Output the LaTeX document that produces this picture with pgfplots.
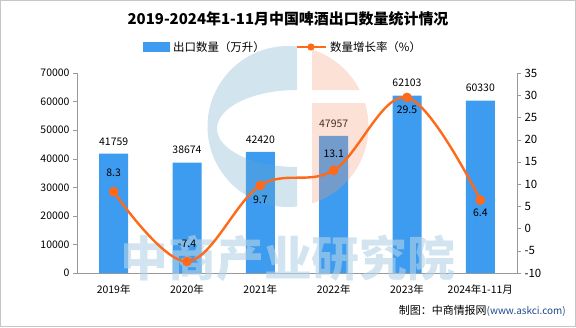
\documentclass[border=0pt]{standalone}
\usepackage{pgfplots}
\pgfplotsset{compat=1.18}
\usepackage{pgfplotstable}
\usepackage{fontspec}
\setmainfont{Noto Sans CJK SC}
\definecolor{barblue}{HTML}{3D9BF0}
\definecolor{lineorange}{HTML}{FF6A1A}
\definecolor{axgray}{HTML}{999999}
\definecolor{logoblue}{RGB}{105,165,198}
\definecolor{logoorange}{RGB}{242,155,118}
\definecolor{wmblue}{RGB}{180,210,230}
\definecolor{srcblue}{HTML}{1F4A8C}
\pgfplotstableread{
x y
0 41759
1 38674
2 42420
3 47957
4 62103
5 60330
}\qty
\pgfplotstableread{
x y off
0 8.3 19
1 -7.4 18
2 9.7 -14
3 13.1 17
4 29.5 -12
5 6.4 -13
}\rate
\begin{document}
\begin{tikzpicture}[x=1bp,y=1bp]
\useasboundingbox (0,0) rectangle (576,327);
\draw[gray!45] (0.5,0.5) rectangle (575.5,326.5);
\begin{axis}[
  at={(77bp,54bp)}, anchor=south west, scale only axis,
  width=440bp, height=200bp,
  xmin=-0.5, xmax=5.5, ymin=0, ymax=70000,
  axis y line*=left, axis x line*=bottom,
  axis line style={axgray},
  tick align=outside,
  ytick={0,10000,...,70000},
  scaled y ticks=false,
  /pgf/number format/1000 sep={},
  /pgf/number format/fixed,
  /pgf/number format/assume math mode=true,
  xtick={0,...,5},
  xticklabels={2019年,2020年,2021年,2022年,2023年,2024年1-11月},
  x tick style={draw=none},
  extra x ticks={-0.5,0.5,1.5,2.5,3.5,4.5,5.5},
  extra x tick labels={},
  extra x tick style={tick style={draw=axgray}},
  y tick style={axgray},
  major tick length=4bp,
  tick label style={font=\fontsize{10.5}{12}\selectfont, black},
  xticklabel style={yshift=-4bp},
  ybar, bar width=29bp, bar shift=0pt,
  nodes near coords,
  nodes near coords style={font=\fontsize{10.5}{12}\selectfont, black},
  every node near coord/.append style={yshift=5bp},
  clip=false,
]
\addplot[fill=barblue, draw=none] table[x=x,y=y] {\qty};
\end{axis}
% watermark logo (semi-transparent, over bars)
\begin{scope}[opacity=0.3, even odd rule]
\clip (0,0) rectangle (297,327);
\fill[logoblue] (288,200.5) circle (80.5) (297,198.5) ellipse (80 and 38.5);
\end{scope}
\begin{scope}[opacity=0.3]
\clip (312,0) rectangle (576,224) (312,237) rectangle (576,327);
\fill[logoorange] (288,200.5) circle (80.5);
\end{scope}
% watermark text
\node[opacity=0.6, text=wmblue, font=\fontsize{48}{50}\selectfont\bfseries, inner sep=0] at (288,69) {中商产业研究院};
\begin{axis}[
  at={(77bp,54bp)}, anchor=south west, scale only axis,
  width=440bp, height=200bp,
  xmin=-0.5, xmax=5.5, ymin=-10, ymax=35,
  axis y line*=right, axis x line=none,
  axis line style={axgray},
  tick align=outside,
  ytick={-10,-5,...,35},
  y tick style={axgray},
  major tick length=4bp,
  tick label style={font=\fontsize{11.5}{12}\selectfont, black},
  /pgf/number format/assume math mode=true,
  clip=false,
]
\addplot[smooth, tension=0.6, lineorange, line width=2.4bp, mark=*, mark size=3.6bp, mark options={fill=lineorange, draw=lineorange},
  nodes near coords,
  visualization depends on={\thisrow{off} \as \laboff},
  every node near coord/.append style={anchor=center, yshift=\laboff bp, font=\fontsize{10.5}{12}\selectfont, black, /pgf/number format/fixed, /pgf/number format/fixed zerofill, /pgf/number format/precision=1},
] table[x=x,y=y] {\rate};
\end{axis}
% title
\node[font=\fontsize{15}{17}\selectfont\bfseries] at (288,308) {2019-2024年1-11月中国啤酒出口数量统计情况};
% legend
\fill[barblue] (143,275) rectangle (170,285);
\node[anchor=west, font=\fontsize{11.5}{13}\selectfont, inner sep=0] at (173,280) {出口数量（万升）};
\draw[lineorange, line width=2.4bp] (297,280) -- (326,280);
\fill[lineorange] (311,280) circle (3.6);
\node[anchor=west, font=\fontsize{11.5}{13}\selectfont, inner sep=0] at (330,280) {数量增长率（\%）};
% source
\node[anchor=east, font=\fontsize{11}{13}\selectfont, inner sep=0] at (566,16) {制图：中商情报网{\color{srcblue}\fontsize{10}{12}\selectfont (www.askci.com)}};
\end{tikzpicture}
\end{document}
